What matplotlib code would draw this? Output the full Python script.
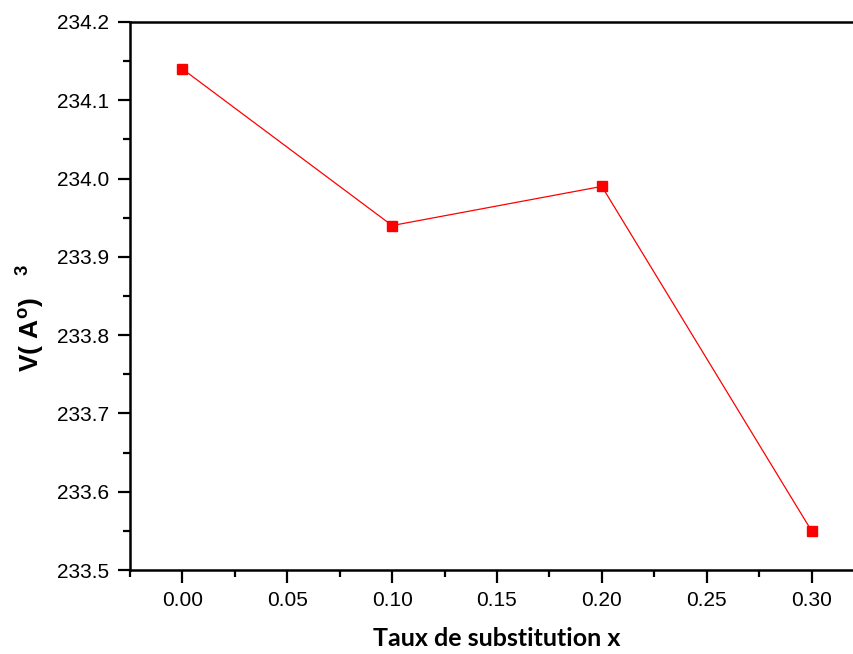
import matplotlib
matplotlib.use("Agg")
import matplotlib.pyplot as plt
from matplotlib.ticker import MultipleLocator, FormatStrFormatter

# substitution rate x and cell volume V (A^3)
x_vals = [0.00, 0.10, 0.20, 0.30]
volume = [234.14, 233.94, 233.99, 233.55]

plt.rcParams["font.family"] = ["Liberation Sans", "DejaVu Sans"]
plt.rcParams["mathtext.fontset"] = "custom"
plt.rcParams["mathtext.bf"] = "Liberation Sans:bold"
plt.rcParams["mathtext.rm"] = "Liberation Sans"

W, H = 854, 654
fig = plt.figure(figsize=(W / 100, H / 100), dpi=100)
# axes run past the right edge of the canvas, like the original export
left, right, top, bottom = 130, 864, 22, 570
ax = fig.add_axes([left / W, 1 - bottom / H, (right - left) / W, (bottom - top) / H])

ax.plot(x_vals, volume, color="red", lw=0.9, marker="s", ms=7.5,
        markerfacecolor="red", markeredgecolor="red")

ax.set_xlim(-0.025, 0.325)
ax.set_ylim(233.5, 234.2)
ax.xaxis.set_major_locator(MultipleLocator(0.05))
ax.xaxis.set_minor_locator(MultipleLocator(0.025))
ax.xaxis.set_major_formatter(FormatStrFormatter("%.2f"))
ax.yaxis.set_major_locator(MultipleLocator(0.1))
ax.yaxis.set_minor_locator(MultipleLocator(0.05))
ax.yaxis.set_major_formatter(FormatStrFormatter("%.1f"))

for s in ("left", "bottom", "top"):
    ax.spines[s].set_linewidth(1.8)
ax.spines["right"].set_visible(False)
ax.tick_params(which="major", direction="out", length=9, width=1.6,
               labelsize=15, pad=6)
ax.tick_params(which="minor", direction="out", length=5, width=1.6)
ax.tick_params(top=False, right=False, which="both")

fig.text(497 / W, 1 - 638 / H, "Taux de substitution x", ha="center", va="center",
         fontsize=18, fontweight="bold", family=["Lato", "DejaVu Sans"])
fig.text(30 / W, 1 - 318 / H, r"V( A$^{\mathbf{o}}$)   $^{\mathbf{3}}$", ha="center",
         va="center", rotation=90, fontsize=19, fontweight="bold")

fig.savefig("out.png", dpi=100)
